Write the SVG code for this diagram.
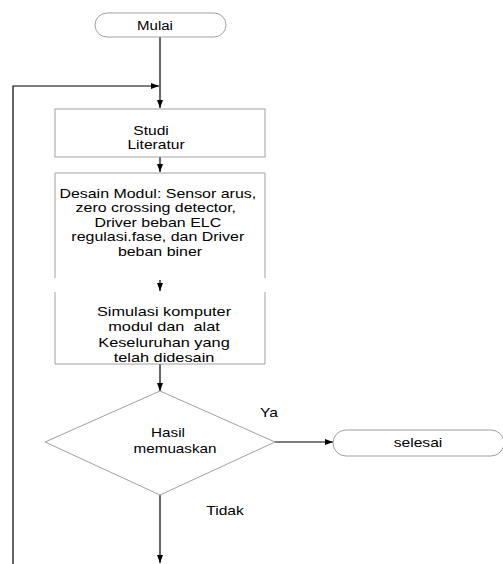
<svg xmlns="http://www.w3.org/2000/svg" width="503" height="564" viewBox="0 0 503 564">
<style>
  text { font-family: "Liberation Sans", Arial, sans-serif; font-size: 12px; fill: #000; text-anchor: middle; }
  .shape { fill: #fff; stroke: #a0a0a0; stroke-width: 1; }
  .open { fill: none; stroke: #a0a0a0; stroke-width: 1; }
  .conn { fill: none; stroke: #000; stroke-width: 1.2; }
</style>
<defs>
  <marker id="arr" markerUnits="userSpaceOnUse" markerWidth="8" markerHeight="6" refX="8" refY="3" orient="auto">
    <path d="M0,0 L8,3 L0,6 z" fill="#000"/>
  </marker>
</defs>
<rect width="503" height="564" fill="#fff"/>

<g id="connectors">
  <line class="conn" x1="160" y1="37" x2="160" y2="108" marker-end="url(#arr)"/>
  <polyline class="conn" points="13,564 13,86 159,86" marker-end="url(#arr)"/>
  <line class="conn" x1="160" y1="157" x2="160" y2="172" marker-end="url(#arr)"/>
  <line class="conn" x1="160" y1="280" x2="160" y2="291" marker-end="url(#arr)"/>
  <line class="conn" x1="160" y1="364" x2="160" y2="391" marker-end="url(#arr)"/>
  <line class="conn" x1="275" y1="442" x2="333" y2="442" marker-end="url(#arr)"/>
  <line class="conn" x1="160" y1="495" x2="160" y2="563" marker-end="url(#arr)"/>
  <text transform="translate(269,417) scale(1.3,1)">Ya</text>
  <text transform="translate(225,515) scale(1.3,1)">Tidak</text>
</g>

<g id="mulai">
  <rect class="shape" x="95" y="13" width="131" height="24" rx="12" ry="12"/>
  <text transform="translate(155,29.5) scale(1.25,1)" font-size="12.5">Mulai</text>
</g>

<g id="studi">
  <rect class="shape" x="55" y="109" width="210" height="48"/>
  <text transform="translate(151,134.5) scale(1.3,1)" font-size="11">Studi</text>
  <text transform="translate(156,149) scale(1.3,1)" font-size="11">Literatur</text>
</g>

<g id="desain">
  <path class="open" d="M55,278 V173 H265 V278"/>
  <text transform="translate(160,198) scale(1.33,1)" font-size="12.3">
    <tspan x="0">Desain Modul: Sensor arus,</tspan>
    <tspan x="-1.5" dy="14.5">zero crossing detector,</tspan>
    <tspan x="0" dy="14.5">Driver beban ELC</tspan>
    <tspan x="0" dy="14.5">regulasi.fase, dan Driver</tspan>
    <tspan x="0" dy="14.5">beban biner</tspan>
  </text>
</g>

<g id="simulasi">
  <path class="open" d="M55,292 V364 H265 V292"/>
  <text transform="translate(164,316) scale(1.36,1)" font-size="12.3" xml:space="preserve"><tspan x="0">Simulasi komputer</tspan><tspan x="0" dy="15.3">modul dan  alat</tspan><tspan x="0" dy="15.3">Keseluruhan yang</tspan><tspan x="0" dy="15.3">telah didesain</tspan></text>
</g>

<g id="hasil">
  <polygon class="shape" points="160,391 275,442 160,495 45,442"/>
  <text transform="translate(168,437) scale(1.27,1)" font-size="11">Hasil</text>
  <text transform="translate(175,453) scale(1.27,1)" font-size="11">memuaskan</text>
</g>

<g id="selesai">
  <rect class="shape" x="333" y="430" width="171" height="26" rx="13" ry="13"/>
  <text transform="translate(418,447) scale(1.3,1)" font-size="12.5">selesai</text>
</g>
</svg>
